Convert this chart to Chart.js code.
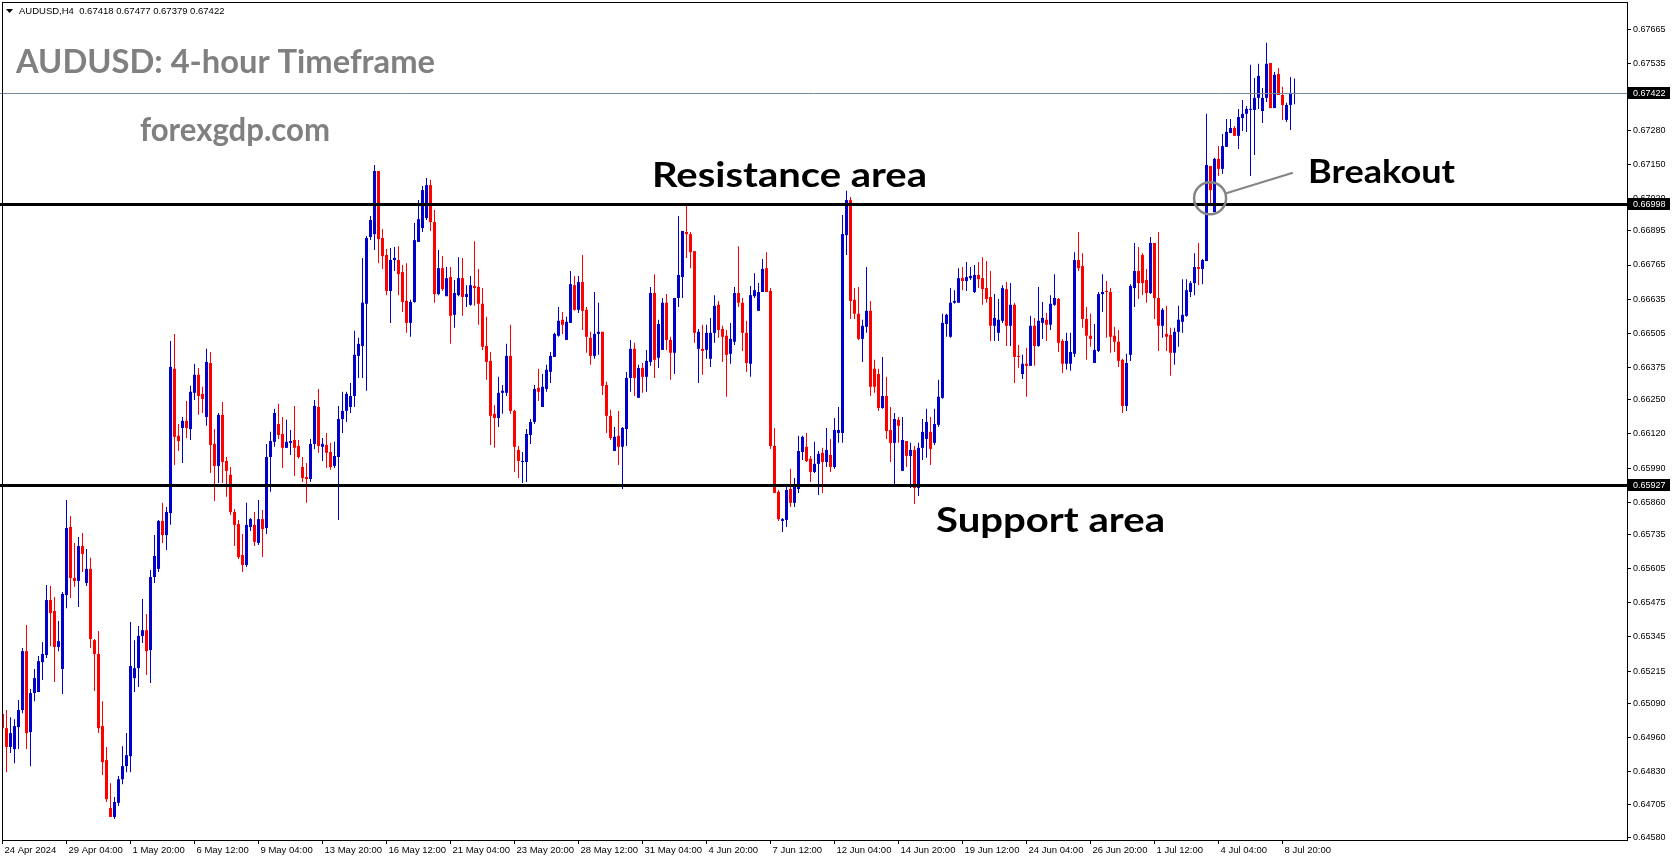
<!DOCTYPE html>
<html>
<head>
<meta charset="utf-8">
<title>AUDUSD H4</title>
<script src="https://cdn.jsdelivr.net/npm/chart.js@4.4.1/dist/chart.umd.min.js"></script>
<style>
  html, body { margin: 0; padding: 0; background: #ffffff; }
  #wrap { width: 1673px; height: 861px; }
</style>
</head>
<body>
<div id="wrap"><canvas id="myChart" width="1673" height="861"></canvas></div>
<script>
// header of the window
var symbolName = "AUDUSD,H4";
var lastBar = [0.67418, 0.67477, 0.67379, 0.67422];

// H4 candles, 24 Apr 2024 -> 9 Jul 2024
var opens = [
  0.65051,0.64997,0.64925,0.64917,0.65001,0.65066,0.65291,0.64982,0.65131,0.65135,
  0.65249,0.65276,0.65486,0.65444,0.65307,0.65223,0.65505,0.65765,0.65570,0.65559,
  0.65692,0.65551,0.65605,0.65333,0.65280,0.65005,0.64875,0.64692,0.64658,0.64712,
  0.64802,0.64852,0.64890,0.65188,0.65226,0.65349,0.65371,0.65295,0.65574,0.65605,
  0.65788,0.65734,0.65818,0.66369,0.66113,0.66143,0.66170,0.66139,0.66277,0.66346,
  0.66273,0.66185,0.66391,0.66082,0.65998,0.66193,0.66017,0.65964,0.65822,0.65776,
  0.65658,0.65620,0.65765,0.65773,0.65704,0.65795,0.65761,0.66032,0.66090,0.66158,
  0.66120,0.66067,0.66086,0.66097,0.66074,0.65994,0.65956,0.65948,0.66082,0.66223,
  0.66071,0.66078,0.66051,0.65998,0.66032,0.66177,0.66208,0.66223,0.66265,0.66418,
  0.66456,0.66617,0.66872,0.66883,0.67124,0.66868,0.66803,0.66666,0.66784,0.66784,
  0.66738,0.66628,0.66544,0.66624,0.66853,0.66906,0.66944,0.67070,0.66929,0.66654,
  0.66753,0.66646,0.66719,0.66575,0.66650,0.66715,0.66643,0.66613,0.66685,0.66681,
  0.66617,0.66456,0.66399,0.66197,0.66181,0.66277,0.66277,0.66418,0.66208,0.66059,
  0.66013,0.66013,0.66116,0.66166,0.66296,0.66223,0.66292,0.66357,0.66414,0.66495,
  0.66556,0.66479,0.66544,0.66688,0.66594,0.66700,0.66594,0.66487,0.66418,0.66502,
  0.66510,0.66307,0.66189,0.66055,0.66113,0.66071,0.66139,0.66334,0.66445,0.66258,
  0.66372,0.66338,0.66395,0.66658,0.66411,0.66441,0.66621,0.66479,0.66430,0.66639,
  0.66719,0.66891,0.66883,0.66818,0.66445,0.66445,0.66441,0.66407,0.66506,0.66613,
  0.66521,0.66495,0.66426,0.66472,0.66658,0.66621,0.66506,0.66388,0.66646,0.66590,
  0.66662,0.66753,0.66666,0.66074,0.65899,0.65788,0.65792,0.65910,0.65857,0.65910,
  0.66051,0.66071,0.66025,0.65975,0.66006,0.66048,0.66013,0.66040,0.65994,0.66124,
  0.66124,0.66879,0.67013,0.66632,0.66579,0.66483,0.66529,0.66590,0.66369,0.66349,
  0.66219,0.66265,0.66135,0.66086,0.66174,0.65979,0.66093,0.66036,0.66059,0.65914,
  0.66067,0.66101,0.66128,0.66086,0.66155,0.66258,0.66540,0.66491,0.66621,0.66621,
  0.66715,0.66704,0.66715,0.66662,0.66727,0.66715,0.66677,0.66643,0.66533,0.66506,
  0.66552,0.66673,0.66533,0.66613,0.66418,0.66349,0.66388,0.66380,0.66533,0.66456,
  0.66544,0.66556,0.66537,0.66613,0.66635,0.66475,0.66388,0.66388,0.66426,0.66784,
  0.66761,0.66559,0.66495,0.66391,0.66437,0.66654,0.66666,0.66662,0.66495,0.66472,
  0.66403,0.66227,0.66422,0.66677,0.66742,0.66803,0.66708,0.66658,0.66849,0.66639,
  0.66533,0.66502,0.66498,0.66430,0.66510,0.66548,0.66571,0.66662,0.66696,0.66757,
  0.66750,0.66780,0.67143,0.66967,0.67170,0.67132,0.67216,0.67269,0.67288,0.67258,
  0.67326,0.67342,0.67357,0.67357,0.67403,0.67353,0.67403,0.67536,0.67364,0.67494,
  0.67414,0.67319,0.67376,0.67418
];
var highs = [
  0.65100,0.65066,0.65039,0.65031,0.65104,0.65303,0.65391,0.65146,0.65223,0.65272,
  0.65326,0.65543,0.65540,0.65498,0.65406,0.65517,0.65868,0.65807,0.65704,0.65727,
  0.65742,0.65681,0.65647,0.65337,0.65368,0.65100,0.64925,0.64787,0.64734,0.64814,
  0.64928,0.64978,0.65402,0.65333,0.65387,0.65490,0.65433,0.65601,0.65734,0.65792,
  0.65857,0.65841,0.66475,0.66502,0.66158,0.66185,0.66246,0.66304,0.66388,0.66372,
  0.66300,0.66445,0.66433,0.66139,0.66200,0.66242,0.66032,0.65994,0.65834,0.65792,
  0.65738,0.65857,0.65799,0.65822,0.65868,0.65830,0.66082,0.66128,0.66216,0.66235,
  0.66185,0.66174,0.66135,0.66227,0.66097,0.66032,0.66009,0.66101,0.66250,0.66292,
  0.66105,0.66124,0.66086,0.66090,0.66227,0.66281,0.66281,0.66315,0.66514,0.66487,
  0.66792,0.66876,0.66952,0.67147,0.67124,0.66902,0.66826,0.66830,0.66834,0.66837,
  0.66765,0.66772,0.66632,0.66925,0.67013,0.67067,0.67097,0.67090,0.66975,0.66822,
  0.66799,0.66757,0.66757,0.66708,0.66795,0.66792,0.66688,0.66723,0.66856,0.66750,
  0.66677,0.66567,0.66433,0.66231,0.66338,0.66307,0.66464,0.66537,0.66212,0.66074,
  0.66051,0.66139,0.66177,0.66307,0.66369,0.66349,0.66384,0.66433,0.66506,0.66605,
  0.66586,0.66567,0.66742,0.66723,0.66723,0.66803,0.66605,0.66510,0.66662,0.66621,
  0.66510,0.66319,0.66212,0.66147,0.66208,0.66147,0.66357,0.66479,0.66468,0.66384,
  0.66391,0.66441,0.66681,0.66730,0.66556,0.66639,0.66654,0.66491,0.66639,0.66952,
  0.66895,0.66990,0.66891,0.66818,0.66521,0.66537,0.66537,0.66563,0.66650,0.66628,
  0.66533,0.66517,0.66544,0.66681,0.66837,0.66639,0.66552,0.66685,0.66734,0.66696,
  0.66788,0.66814,0.66677,0.66143,0.65906,0.65799,0.65922,0.65987,0.65952,0.66113,
  0.66113,0.66124,0.66036,0.66090,0.66055,0.66067,0.66143,0.66101,0.66181,0.66223,
  0.66956,0.67048,0.67025,0.66677,0.66681,0.66556,0.66757,0.66628,0.66403,0.66369,
  0.66414,0.66338,0.66223,0.66200,0.66185,0.66185,0.66093,0.66086,0.66074,0.66086,
  0.66177,0.66216,0.66185,0.66216,0.66327,0.66579,0.66579,0.66677,0.66669,0.66753,
  0.66757,0.66776,0.66757,0.66765,0.66776,0.66795,0.66780,0.66742,0.66654,0.66635,
  0.66688,0.66700,0.66696,0.66621,0.66460,0.66422,0.66449,0.66571,0.66563,0.66681,
  0.66624,0.66582,0.66650,0.66730,0.66639,0.66483,0.66506,0.66506,0.66814,0.66891,
  0.66810,0.66605,0.66579,0.66540,0.66662,0.66730,0.66704,0.66677,0.66529,0.66517,
  0.66407,0.66426,0.66692,0.66849,0.66834,0.66810,0.66750,0.66872,0.66849,0.66891,
  0.66601,0.66609,0.66525,0.66525,0.66609,0.66711,0.66711,0.66704,0.66810,0.66849,
  0.66788,0.67342,0.67143,0.67174,0.67219,0.67265,0.67322,0.67322,0.67296,0.67361,
  0.67395,0.67372,0.67529,0.67479,0.67533,0.67441,0.67613,0.67536,0.67502,0.67517,
  0.67445,0.67384,0.67483,0.67477
];
var lows = [
  0.64963,0.64829,0.64902,0.64863,0.64917,0.65054,0.64917,0.64852,0.65100,0.65135,
  0.65181,0.65265,0.65310,0.65173,0.65291,0.65127,0.65455,0.65494,0.65536,0.65459,
  0.65593,0.65540,0.65303,0.65139,0.64978,0.64818,0.64715,0.64658,0.64650,0.64700,
  0.64783,0.64829,0.64829,0.65135,0.65154,0.65322,0.65200,0.65169,0.65551,0.65593,
  0.65704,0.65677,0.65773,0.66002,0.66055,0.66009,0.66105,0.66097,0.66250,0.66193,
  0.66200,0.66151,0.65971,0.65864,0.65933,0.65933,0.65880,0.65811,0.65692,0.65643,
  0.65593,0.65612,0.65750,0.65692,0.65696,0.65650,0.65738,0.65899,0.66071,0.66101,
  0.65990,0.66067,0.66040,0.65960,0.66025,0.65937,0.65857,0.65937,0.66063,0.66048,
  0.66017,0.65990,0.65983,0.65990,0.65792,0.66124,0.66166,0.66200,0.66223,0.66334,
  0.66334,0.66285,0.66860,0.66822,0.66772,0.66750,0.66650,0.66544,0.66742,0.66650,
  0.66586,0.66506,0.66491,0.66621,0.66853,0.66891,0.66937,0.66895,0.66621,0.66650,
  0.66666,0.66646,0.66464,0.66525,0.66646,0.66571,0.66605,0.66609,0.66609,0.66537,
  0.66441,0.66327,0.66078,0.66067,0.66147,0.66197,0.66265,0.66197,0.65975,0.65952,
  0.65933,0.65937,0.66082,0.66158,0.66246,0.66223,0.66281,0.66315,0.66414,0.66491,
  0.66502,0.66479,0.66544,0.66590,0.66582,0.66517,0.66430,0.66384,0.66407,0.66422,
  0.66269,0.66124,0.66097,0.66055,0.66002,0.65910,0.66074,0.66281,0.66265,0.66258,
  0.66277,0.66281,0.66380,0.66334,0.66372,0.66441,0.66441,0.66327,0.66349,0.66605,
  0.66639,0.66792,0.66753,0.66468,0.66315,0.66346,0.66407,0.66376,0.66468,0.66487,
  0.66395,0.66262,0.66388,0.66460,0.66605,0.66437,0.66357,0.66338,0.66639,0.66590,
  0.66662,0.66662,0.66063,0.65895,0.65788,0.65746,0.65765,0.65841,0.65841,0.65895,
  0.66021,0.66013,0.65937,0.65971,0.65887,0.65895,0.65994,0.65975,0.65987,0.66086,
  0.66086,0.66803,0.66559,0.66559,0.66479,0.66395,0.66506,0.66265,0.66277,0.66208,
  0.66216,0.66101,0.66013,0.65918,0.66086,0.65979,0.65994,0.65914,0.65853,0.65883,
  0.66021,0.66029,0.66002,0.66078,0.66147,0.66254,0.66491,0.66487,0.66617,0.66621,
  0.66669,0.66666,0.66708,0.66658,0.66677,0.66613,0.66621,0.66475,0.66475,0.66475,
  0.66544,0.66456,0.66456,0.66315,0.66372,0.66330,0.66262,0.66380,0.66380,0.66453,
  0.66483,0.66475,0.66517,0.66609,0.66433,0.66353,0.66365,0.66361,0.66414,0.66742,
  0.66525,0.66403,0.66453,0.66391,0.66433,0.66586,0.66487,0.66430,0.66433,0.66376,
  0.66200,0.66208,0.66399,0.66605,0.66635,0.66650,0.66621,0.66654,0.66559,0.66437,
  0.66487,0.66437,0.66342,0.66384,0.66453,0.66506,0.66567,0.66643,0.66650,0.66688,
  0.66692,0.66780,0.67002,0.66967,0.67105,0.67112,0.67216,0.67269,0.67258,0.67208,
  0.67277,0.67273,0.67105,0.67185,0.67361,0.67307,0.67387,0.67364,0.67364,0.67414,
  0.67319,0.67311,0.67280,0.67379
];
var closes = [
  0.64997,0.64925,0.64978,0.65005,0.65066,0.65291,0.64978,0.65131,0.65188,0.65253,
  0.65280,0.65486,0.65436,0.65307,0.65329,0.65509,0.65761,0.65570,0.65559,0.65692,
  0.65662,0.65605,0.65337,0.65280,0.64997,0.64867,0.64726,0.64658,0.64715,0.64802,
  0.64852,0.64894,0.65234,0.65226,0.65349,0.65371,0.65291,0.65574,0.65654,0.65788,
  0.65734,0.65822,0.66376,0.66109,0.66093,0.66170,0.66143,0.66281,0.66346,0.66265,
  0.66254,0.66395,0.66078,0.65998,0.66193,0.66013,0.65979,0.65822,0.65773,0.65650,
  0.65620,0.65773,0.65795,0.65708,0.65795,0.65757,0.66032,0.66093,0.66200,0.66116,
  0.66067,0.66090,0.66093,0.66067,0.66032,0.65952,0.65948,0.66082,0.66227,0.66074,
  0.66082,0.66048,0.65994,0.66036,0.66177,0.66208,0.66273,0.66265,0.66422,0.66464,
  0.66621,0.66868,0.66937,0.67124,0.66864,0.66799,0.66666,0.66784,0.66792,0.66730,
  0.66624,0.66544,0.66624,0.66860,0.66940,0.67051,0.67070,0.66929,0.66654,0.66753,
  0.66673,0.66715,0.66571,0.66658,0.66715,0.66643,0.66654,0.66688,0.66677,0.66617,
  0.66453,0.66395,0.66189,0.66181,0.66277,0.66285,0.66418,0.66208,0.66071,0.66017,
  0.66017,0.66120,0.66166,0.66292,0.66281,0.66300,0.66365,0.66418,0.66502,0.66552,
  0.66537,0.66548,0.66692,0.66594,0.66700,0.66590,0.66491,0.66418,0.66502,0.66510,
  0.66304,0.66189,0.66105,0.66109,0.66071,0.66143,0.66334,0.66445,0.66334,0.66372,
  0.66338,0.66399,0.66658,0.66403,0.66540,0.66621,0.66479,0.66430,0.66639,0.66727,
  0.66895,0.66883,0.66814,0.66506,0.66510,0.66437,0.66506,0.66506,0.66609,0.66517,
  0.66491,0.66422,0.66483,0.66658,0.66621,0.66506,0.66391,0.66650,0.66669,0.66662,
  0.66750,0.66662,0.66074,0.65895,0.65795,0.65795,0.65906,0.65857,0.65918,0.66055,
  0.66109,0.66017,0.65975,0.66006,0.66044,0.66013,0.66059,0.65994,0.66135,0.66135,
  0.66883,0.67013,0.66628,0.66579,0.66483,0.66533,0.66590,0.66300,0.66300,0.66219,
  0.66265,0.66131,0.66086,0.66177,0.66151,0.66097,0.66036,0.66059,0.65914,0.66067,
  0.66128,0.66166,0.66063,0.66158,0.66262,0.66544,0.66575,0.66621,0.66628,0.66715,
  0.66704,0.66719,0.66723,0.66727,0.66711,0.66673,0.66635,0.66533,0.66563,0.66556,
  0.66677,0.66533,0.66613,0.66414,0.66414,0.66388,0.66380,0.66533,0.66456,0.66552,
  0.66563,0.66537,0.66617,0.66639,0.66468,0.66388,0.66475,0.66433,0.66784,0.66753,
  0.66559,0.66495,0.66483,0.66441,0.66654,0.66662,0.66662,0.66491,0.66472,0.66399,
  0.66227,0.66391,0.66685,0.66742,0.66696,0.66696,0.66658,0.66849,0.66639,0.66533,
  0.66594,0.66491,0.66430,0.66510,0.66556,0.66575,0.66669,0.66696,0.66757,0.66750,
  0.66784,0.67147,0.67051,0.67170,0.67132,0.67219,0.67273,0.67288,0.67258,0.67330,
  0.67342,0.67361,0.67361,0.67403,0.67487,0.67403,0.67533,0.67364,0.67491,0.67414,
  0.67376,0.67376,0.67422,0.67422
];

// axis labels
var timeTickBars = [0, 16, 32, 48, 64, 80, 96, 112, 128, 144, 160, 176, 192, 208, 224, 240, 256, 272, 288, 304, 320];
var timeTickLabels = ["24 Apr 2024", "29 Apr 04:00", "1 May 20:00", "6 May 12:00", "9 May 04:00", "13 May 20:00",
  "16 May 12:00", "21 May 04:00", "23 May 20:00", "28 May 12:00", "31 May 04:00", "4 Jun 20:00", "7 Jun 12:00",
  "12 Jun 04:00", "14 Jun 20:00", "19 Jun 12:00", "24 Jun 04:00", "26 Jun 20:00", "1 Jul 12:00", "4 Jul 04:00", "8 Jul 20:00"];
var priceTicks = [0.67665, 0.67535, 0.67410, 0.67280, 0.67150, 0.67020, 0.66895, 0.66765, 0.66635, 0.66505,
  0.66375, 0.66250, 0.66120, 0.65990, 0.65860, 0.65735, 0.65605, 0.65475, 0.65345, 0.65215,
  0.65090, 0.64960, 0.64830, 0.64705, 0.64580];

// drawn levels
var resistanceLevel = 0.66998;
var supportLevel = 0.65927;
var bidLevel = 0.67422;
var breakoutPoint = [301.9, 0.67020];
var pointerEnd = [322.6, 0.67117];

var bullColor = "#0000cc";
var bearColor = "#ff0000";
var axisFont = "Liberation Sans";

function init() {
  getChart();
}

function candleColor(ctx) {
  var i = ctx.dataIndex;
  return closes[i] >= opens[i] ? bullColor : bearColor;
}

function fitText(ctx, txt, x, base, w, size, color) {
  ctx.save();
  ctx.font = "bold " + size + "px Lato";
  ctx.fillStyle = color;
  ctx.textAlign = "left";
  ctx.textBaseline = "alphabetic";
  var m = ctx.measureText(txt).width;
  ctx.translate(x, base);
  ctx.scale(w / m, 1);
  ctx.fillText(txt, 0, 0);
  ctx.restore();
}

var overlay = {
  id: "overlay",
  afterDatasetsDraw: function (chart) {
    var ctx = chart.ctx;
    var a = chart.chartArea;
    var xs = chart.scales.x;
    var ys = chart.scales.y;
    ctx.save();
    // bid line
    var yb = Math.round(ys.getPixelForValue(bidLevel)) + 0.5;
    ctx.strokeStyle = "#778899";
    ctx.lineWidth = 1;
    ctx.beginPath();
    ctx.moveTo(0, yb);
    ctx.lineTo(a.right, yb);
    ctx.stroke();
    // resistance / support
    ctx.strokeStyle = "#000000";
    ctx.lineWidth = 3;
    [resistanceLevel, supportLevel].forEach(function (v) {
      var y = Math.round(ys.getPixelForValue(v)) + 0.5;
      ctx.beginPath();
      ctx.moveTo(0, y);
      ctx.lineTo(a.right, y);
      ctx.stroke();
    });
    // breakout circle and pointer
    var cx = xs.getPixelForValue(breakoutPoint[0]);
    var cy = ys.getPixelForValue(breakoutPoint[1]);
    var ex = xs.getPixelForValue(pointerEnd[0]);
    var ey = ys.getPixelForValue(pointerEnd[1]);
    var r = 16;
    var ang = Math.atan2(ey - cy, ex - cx);
    ctx.strokeStyle = "#858585";
    ctx.lineWidth = 2.5;
    ctx.beginPath();
    ctx.arc(cx, cy, r, 0, Math.PI * 2);
    ctx.stroke();
    ctx.lineWidth = 2;
    ctx.beginPath();
    ctx.moveTo(cx + r * Math.cos(ang), cy + r * Math.sin(ang));
    ctx.lineTo(ex, ey);
    ctx.stroke();
    ctx.restore();
  },
  afterDraw: function (chart) {
    var ctx = chart.ctx;
    var a = chart.chartArea;
    var ys = chart.scales.y;
    ctx.save();
    // frame
    ctx.strokeStyle = "#000000";
    ctx.lineWidth = 1;
    ctx.strokeRect(a.left + 0.5, a.top + 0.5, a.right - a.left, a.bottom - a.top);
    // price boxes on the axis
    [bidLevel, resistanceLevel, supportLevel].forEach(function (v) {
      var y = Math.round(ys.getPixelForValue(v));
      ctx.fillStyle = "#000000";
      ctx.fillRect(a.right + 1, y - 6, 42, 12);
      ctx.fillStyle = "#ffffff";
      ctx.font = "9px " + axisFont;
      ctx.textBaseline = "middle";
      ctx.textAlign = "left";
      ctx.fillText(v.toFixed(5), a.right + 6, y + 0.5);
    });
    // window header
    ctx.fillStyle = "#000000";
    ctx.beginPath();
    ctx.moveTo(6, 9);
    ctx.lineTo(13, 9);
    ctx.lineTo(9.5, 13);
    ctx.closePath();
    ctx.fill();
    ctx.font = "9.5px " + axisFont;
    ctx.textBaseline = "alphabetic";
    ctx.fillText(symbolName + "  " + lastBar.map(function (v) { return v.toFixed(5); }).join(" "), 19, 14);
    ctx.restore();
    // annotations
    fitText(ctx, "AUDUSD: 4-hour Timeframe", 16, 73, 419, 32, "#808080");
    fitText(ctx, "forexgdp.com", 140, 141, 190, 32, "#808080");
    fitText(ctx, "Resistance area", 652, 187, 275, 35, "#000000");
    fitText(ctx, "Support area", 936, 532, 229, 35, "#000000");
    fitText(ctx, "Breakout", 1308, 183, 147, 33, "#000000");
  }
};

function getChart() {
  var bodies = opens.map(function (o, i) { return { x: i, y: [o, closes[i]] }; });
  var wicks = opens.map(function (o, i) { return { x: i, y: [lows[i], highs[i]] }; });
  var ctx = document.getElementById("myChart").getContext("2d");
  var chart = new Chart(ctx, {
    type: "bar",
    data: {
      datasets: [{
        label: "body",
        data: bodies,
        backgroundColor: candleColor,
        barThickness: 3,
        minBarLength: 1,
        borderWidth: 0,
        inflateAmount: 0,
        grouped: false
      }, {
        label: "wick",
        data: wicks,
        backgroundColor: candleColor,
        barThickness: 1,
        borderWidth: 0,
        inflateAmount: 0,
        grouped: false
      }]
    },
    plugins: [overlay],
    options: {
      responsive: false,
      animation: false,
      events: [],
      layout: { padding: { left: 2, top: 2, right: 0, bottom: 0 } },
      plugins: { legend: { display: false }, tooltip: { enabled: false } },
      scales: {
        x: {
          type: "linear",
          min: -0.125,
          max: 406.125,
          offset: false,
          grid: { drawOnChartArea: false, drawTicks: true, tickLength: 4, color: "#000000", tickColor: "#000000", offset: false },
          border: { display: true, color: "#000000" },
          afterBuildTicks: function (s) { s.ticks = timeTickBars.map(function (b) { return { value: b }; }); },
          afterFit: function (s) { s.height = 21; s.paddingLeft = 0; s.paddingRight = 0; },
          ticks: {
            autoSkip: false, maxRotation: 0, minRotation: 0, align: "start", labelOffset: 2, padding: 1,
            color: "#000000", font: { family: axisFont, size: 9.5 },
            callback: function (v, idx) { return timeTickLabels[idx]; }
          }
        },
        y: {
          type: "linear",
          position: "right",
          min: 0.64570,
          max: 0.67769,
          grid: { drawOnChartArea: false, drawTicks: true, tickLength: 4, color: "#000000", tickColor: "#000000" },
          border: { display: true, color: "#000000" },
          afterBuildTicks: function (s) { s.ticks = priceTicks.map(function (v) { return { value: v }; }); },
          afterFit: function (s) { s.width = 46; s.paddingTop = 0; s.paddingBottom = 0; },
          ticks: {
            autoSkip: false, padding: 2, color: "#000000", font: { family: axisFont, size: 9 },
            callback: function (v) { return Number(v).toFixed(5); }
          }
        }
      }
    }
  });
}

init();
</script>
</body>
</html>
